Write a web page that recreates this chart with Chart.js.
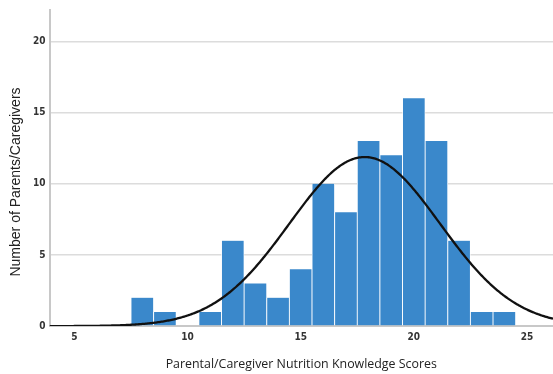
<!DOCTYPE html>
<html>
<head>
<meta charset="utf-8">
<script src="https://cdn.jsdelivr.net/npm/chart.js@4"></script>
<style>
  html, body { margin: 0; padding: 0; background: #fff; }
  #wrap { width: 553px; height: 374px; }
</style>
</head>
<body>
<div id="wrap"><canvas id="c" width="553" height="374"></canvas></div>
<script>
// Score bins (bin width 1, centred on whole scores) and counts per bin
const scores = [8, 9, 10, 11, 12, 13, 14, 15, 16, 17, 18, 19, 20, 21, 22, 23, 24];
const counts = [2, 1, 0, 1, 6, 3, 2, 4, 10, 8, 13, 12, 16, 13, 6, 1, 1];
const xTicks = [5, 10, 15, 20, 25];
const yTicks = [0, 5, 10, 15, 20];
const yTitle = 'Number of Parents/Caregivers';
const xTitle = 'Parental/Caregiver Nutrition Knowledge Scores';

// Fitted normal curve: mean and SD taken from the binned counts
const n = counts.reduce((a, b) => a + b, 0);
const mean = scores.reduce((s, x, i) => s + x * counts[i], 0) / n;
const variance = scores.reduce((s, x, i) => s + counts[i] * (x - mean) ** 2, 0) / (n - 1);
const sd = Math.sqrt(variance);

const X_MIN = 3.9, X_MAX = 26.15;
const curve = [];
for (let x = X_MIN; x <= X_MAX + 1e-9; x += 0.05) {
  const z = (x - mean) / sd;
  curve.push({ x: x, y: n / (sd * Math.sqrt(2 * Math.PI)) * Math.exp(-0.5 * z * z) });
}

const tickFont = { family: '"Liberation Sans Narrow", "DejaVu Sans Condensed", sans-serif', size: 10, weight: 'bold' };

// Vertical axis title, set a little below the plot's midline
const yTitlePlugin = {
  id: 'yTitle',
  afterDraw(chart) {
    const ctx = chart.ctx;
    ctx.save();
    ctx.translate(16, 182);
    ctx.rotate(-Math.PI / 2);
    ctx.font = '14px "Liberation Sans", Arial, sans-serif';
    ctx.fillStyle = '#222';
    ctx.textAlign = 'center';
    ctx.textBaseline = 'middle';
    ctx.fillText(yTitle, 0, 0);
    ctx.restore();
  }
};

new Chart(document.getElementById('c'), {
  type: 'bar',
  data: {
    datasets: [
      {
        type: 'line',
        data: curve,
        borderColor: '#111',
        borderWidth: 2.3,
        pointRadius: 0,
        fill: false,
        order: 0
      },
      {
        type: 'bar',
        data: scores.map((s, i) => ({ x: s, y: counts[i] })),
        backgroundColor: '#3a88cb',
        borderColor: '#ffffff',
        borderWidth: { left: 0.8, right: 0.8, top: 0, bottom: 0 },
        borderSkipped: false,
        barPercentage: 1,
        categoryPercentage: 1,
        order: 1
      }
    ]
  },
  options: {
    responsive: false,
    animation: false,
    layout: { padding: { top: 8, right: 0, bottom: 2, left: 29 } },
    plugins: { legend: { display: false }, tooltip: { enabled: false } },
    scales: {
      x: {
        type: 'linear',
        offset: false,
        min: X_MIN,
        max: X_MAX,
        afterBuildTicks: (scale) => { scale.ticks = xTicks.map(v => ({ value: v })); },
        grid: { display: false, drawTicks: false },
        border: { display: true, color: '#c8c8c8', width: 2 },
        ticks: { color: '#333', font: tickFont, padding: 5 },
        title: {
          display: true,
          text: xTitle,
          color: '#222',
          font: { family: '"Open Sans", sans-serif', size: 12.4 },
          padding: { top: 9, bottom: 0 }
        }
      },
      y: {
        min: 0,
        max: 22.2,
        afterBuildTicks: (scale) => { scale.ticks = yTicks.map(v => ({ value: v })); },
        grid: { color: '#dcdcdc', lineWidth: 1.5, drawTicks: false },
        border: { display: true, color: '#c8c8c8', width: 2 },
        ticks: { color: '#333', font: tickFont, padding: 4 }
      }
    }
  },
  plugins: [yTitlePlugin]
});
</script>
</body>
</html>
